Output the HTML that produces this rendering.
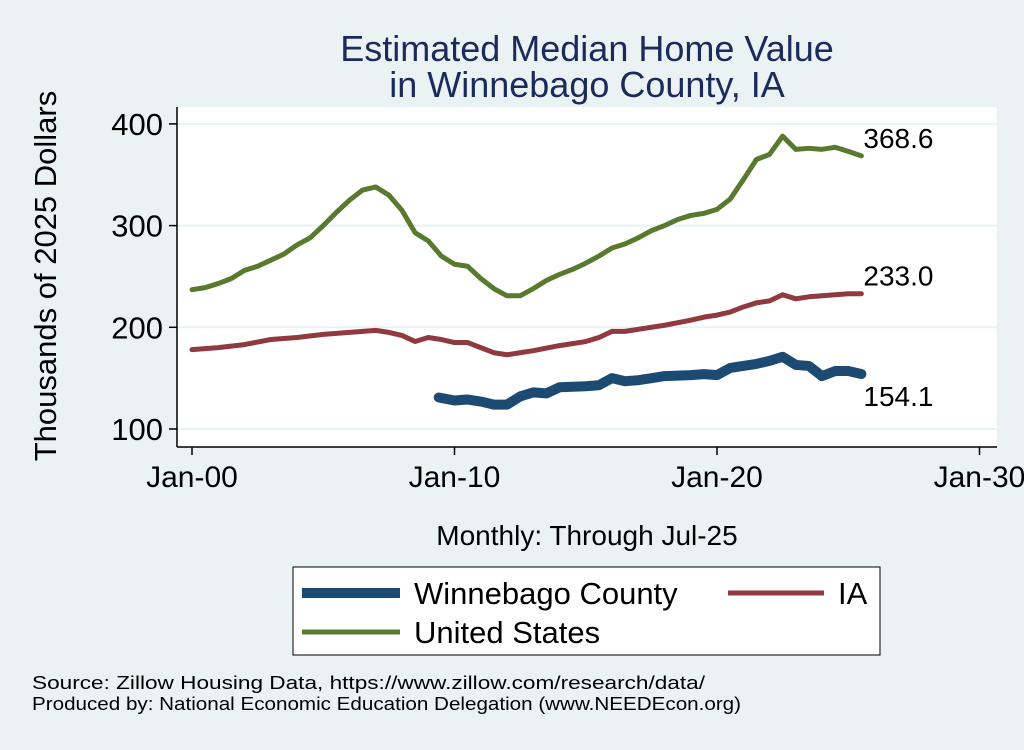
<!DOCTYPE html>
<html><head><meta charset="utf-8"><style>
body{margin:0;width:1024px;height:745px;background:#eaf2f3;font-family:"Liberation Sans",sans-serif;overflow:hidden}
svg text{font-family:"Liberation Sans",sans-serif}
</style></head><body>
<svg width="1024" height="745">
<rect x="0" y="0" width="1024" height="745" fill="#eaf2f3"/>
<rect x="177" y="107" width="820" height="340" fill="#fff"/>
<text x="587" y="61" font-size="36" fill="#1a2a5a" text-anchor="middle">Estimated Median Home Value</text>
<text x="587" y="97" font-size="36" fill="#1a2a5a" text-anchor="middle">in Winnebago County, IA</text>
<g id="grid"></g><g id="axes"></g><g id="lines"></g>
<text x="56" y="276" font-size="31" text-anchor="middle" transform="rotate(-90 56 276)">Thousands of 2025 Dollars</text>
<text x="587" y="545" font-size="28" text-anchor="middle">Monthly: Through Jul-25</text>
<rect x="293" y="567" width="587" height="88" fill="#fff" stroke="#000" stroke-width="1"/>
<g><line x1="302" y1="593" x2="400" y2="593" stroke="#1c4a72" stroke-width="10"/><text x="414" y="604" font-size="31">Winnebago County</text></g>
<g><line x1="728" y1="593" x2="824" y2="593" stroke="#903a40" stroke-width="5"/><text x="838" y="604" font-size="31">IA</text></g>
<g><line x1="302" y1="632" x2="400" y2="632" stroke="#587a2f" stroke-width="5"/><text x="414" y="643" font-size="31">United States</text></g>
<text x="32" y="689" font-size="18" textLength="673" lengthAdjust="spacingAndGlyphs">Source: Zillow Housing Data, https://www.zillow.com/research/data/</text>
<text x="32" y="710" font-size="18" textLength="709" lengthAdjust="spacingAndGlyphs">Produced by: National Economic Education Delegation (www.NEEDEcon.org)</text>
</svg>
<script>
const usYears=[2000,2000.5,2001,2001.5,2002,2002.5,2003,2003.5,2004,2004.5,2005,2005.5,2006,2006.5,2007,2007.5,2008,2008.5,2009,2009.5,2010,2010.5,2011,2011.5,2012,2012.5,2013,2013.5,2014,2014.5,2015,2015.5,2016,2016.5,2017,2017.5,2018,2018.5,2019,2019.5,2020,2020.5,2021,2021.5,2022,2022.5,2023,2023.5,2024,2024.5,2025,2025.5];
const usValues=[237,239,243,248,256,260,266,272,281,288,300,313,325,335,338,330,315,293,285,270,262,260,248,238,231,231,238,246,252,257,263,270,278,282,288,295,300,306,310,312,316,326,345,365,370,388,375,376,375,377,373,368.6];
const iaYears=[2000,2001,2002,2003,2004,2005,2006,2007,2007.5,2008,2008.5,2009,2009.5,2010,2010.5,2011,2011.5,2012,2012.5,2013,2014,2015,2015.5,2016,2016.5,2017,2018,2019,2019.5,2020,2020.5,2021,2021.5,2022,2022.5,2023,2023.5,2024,2024.5,2025,2025.5];
const iaValues=[178,180,183,188,190,193,195,197,195,192,186,190,188,185,185,180,175,173,175,177,182,186,190,196,196,198,202,207,210,212,215,220,224,226,232,228,230,231,232,233,233];
const wbYears=[2009.4,2010,2010.5,2011,2011.5,2012,2012.5,2013,2013.5,2014,2015,2015.5,2016,2016.5,2017,2017.5,2018,2019,2019.5,2020,2020.5,2021,2021.5,2022,2022.5,2023,2023.5,2024,2024.5,2025,2025.5];
const wbValues=[131,128,129,127,124,124,132,136,135,141,142,143,150,147,148,150,152,153,154,153,160,162,164,167,171,163,162,152,157,157,154.1];
const yTicks=[100,200,300,400];
const xTickYears=[2000,2010,2020,2030];
const xTickLabels=["Jan-00","Jan-10","Jan-20","Jan-30"];
const endLabels=["368.6","233.0","154.1"];
const NS="http://www.w3.org/2000/svg";
const X=y=>192+(y-2000)*26.25, Y=v=>429-(v-100)*1.017;
function mk(t,a,p){const e=document.createElementNS(NS,t);for(const k in a)e.setAttribute(k,a[k]);p.appendChild(e);return e;}
const grid=document.getElementById('grid'),axes=document.getElementById('axes'),lines=document.getElementById('lines');
yTicks.forEach(v=>{
 const g=mk('line',{x1:177,x2:997,y1:Y(v),y2:Y(v),stroke:'#eaf2f3','stroke-width':2},grid);
 
 
 mk('line',{x1:169,x2:177,y1:Y(v),y2:Y(v),stroke:'#000','stroke-width':1.5},axes);
 const t=mk('text',{x:163,y:Y(v)+11,'font-size':31,'text-anchor':'end'},axes);t.textContent=v;
 
 
});
mk('line',{x1:177,x2:177,y1:107,y2:447,stroke:'#000','stroke-width':1.5},axes);
mk('line',{x1:177,x2:997,y1:447,y2:447,stroke:'#000','stroke-width':1.5},axes);
xTickYears.forEach((yr,i)=>{
 mk('line',{x1:X(yr),x2:X(yr),y1:447,y2:455,stroke:'#000','stroke-width':1.5},axes);
 const t=mk('text',{x:X(yr),y:487,'font-size':30,'text-anchor':'middle'},axes);t.textContent=xTickLabels[i];
 
 
});
function series(xs,vs,col,w,name,label,dy){
 const p=mk('polyline',{points:xs.map((x,i)=>X(x)+','+Y(vs[i])).join(' '),fill:'none',stroke:col,'stroke-width':w,'stroke-linejoin':'round','stroke-linecap':'round'},lines);
 
 
 const t=mk('text',{x:X(xs[xs.length-1])+2,y:Y(vs[vs.length-1])+dy,'font-size':28},lines);t.textContent=label;
 
 
}
series(usYears,usValues,'#587a2f',5,'us-line',endLabels[0],-8);
series(iaYears,iaValues,'#903a40',5,'ia-line',endLabels[1],-8);
series(wbYears,wbValues,'#1c4a72',10,'winnebago-line',endLabels[2],32);
</script>
</body></html>
